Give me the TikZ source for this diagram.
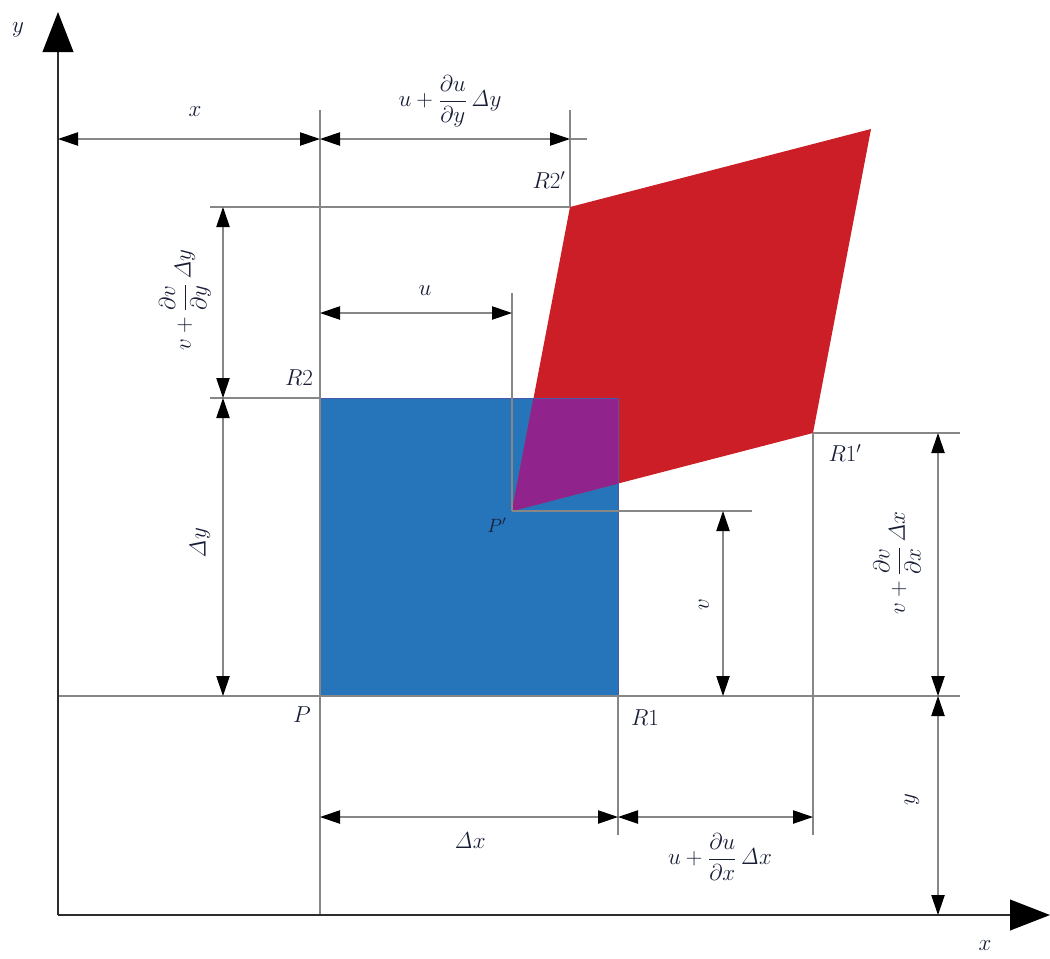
\documentclass[tikz,border=0pt]{standalone}
\usetikzlibrary{arrows.meta}
\definecolor{sqblue}{RGB}{38,116,186}
\definecolor{sqedge}{RGB}{72,88,170}
\definecolor{pred}{RGB}{204,30,38}
\definecolor{ppurple}{RGB}{145,35,140}
\definecolor{lgray}{RGB}{135,135,135}
\definecolor{axgray}{RGB}{45,45,45}
\definecolor{txt}{RGB}{25,30,55}
\newcommand{\dfr}[2]{{\displaystyle\frac{#1}{#2}}}
\begin{document}
\begin{tikzpicture}[x=0.75pt,y=-0.75pt,
  ext/.style={draw=lgray, line width=0.9pt},
  dimarrow/.style={draw=lgray, line width=0.9pt,
    {Triangle[length=15pt,width=10pt,color=black]}-{Triangle[length=15pt,width=10pt,color=black]}},
  axis/.style={draw=axgray, line width=1.4pt, -{Triangle[length=30pt,width=23pt,color=black]}},
  lbl/.style={font=\fontsize{16}{18}\selectfont, text=txt, inner sep=1pt},
  ptlbl/.style={font=\fontsize{16.5}{18}\selectfont, text=txt, inner sep=1pt},
]
\useasboundingbox (0,0) rectangle (1050,958);

% key points
\coordinate (O) at (58,915);
\coordinate (Ytop) at (58,12);
\coordinate (Xend) at (1050,915);
\coordinate (P) at (320,696);
\coordinate (R1) at (618,696);
\coordinate (R2) at (320,398);
\coordinate (Q) at (618,398);
\coordinate (Pp) at (512,511);
\coordinate (R1p) at (813,433);
\coordinate (R2p) at (570,207);
\coordinate (Fp) at (871,129);

% fills
\fill[sqblue] (R2) rectangle (R1);
\fill[pred] (Pp) -- (R1p) -- (Fp) -- (R2p) -- cycle;
\begin{scope}
  \clip (R2) rectangle (R1);
  \fill[ppurple] (Pp) -- (R1p) -- (Fp) -- (R2p) -- cycle;
\end{scope}
\draw[sqedge, line width=0.6pt] (R2) rectangle (R1);

% extension lines
\coordinate (e1a) at (320,110); \coordinate (e1b) at (320,915);
\draw[ext] (e1a) -- (e1b);
\coordinate (e2a) at (570,110);
\draw[ext] (e2a) -- (R2p);
\coordinate (e3a) at (210,207);
\draw[ext] (e3a) -- (R2p);
\coordinate (e4a) at (210,398);
\draw[ext] (e4a) -- (R2);
\coordinate (e5a) at (58,696); \coordinate (e5b) at (960,696);
\draw[ext] (e5a) -- (e5b);
\coordinate (e6a) at (512,293);
\draw[ext] (e6a) -- (Pp);
\coordinate (e7b) at (752,511);
\draw[ext] (Pp) -- (e7b);
\coordinate (e8b) at (960,433);
\draw[ext] (R1p) -- (e8b);
\coordinate (e9b) at (618,835);
\draw[ext] (R1) -- (e9b);
\coordinate (e10b) at (813,835);
\draw[ext] (R1p) -- (e10b);
\coordinate (e11a) at (570,139); \coordinate (e11b) at (587,139);
\draw[ext] (e11a) -- (e11b);

% axes
\draw[axis] (O) -- (Ytop);
\draw[axis] (O) -- (Xend);
\node[lbl] (ylab) at (18,30) {$y$};
\node[lbl] (xlab) at (985,946) {$x$};

% dimension lines
\coordinate (d1a) at (58,139); \coordinate (d1b) at (320,139);
\draw[dimarrow] (d1a) -- (d1b);
\node[lbl] (lx) at (195,112) {$x$};

\coordinate (d2b) at (570,139);
\draw[dimarrow] (d1b) -- (d2b);
\node[lbl] (luy) at (450,101) {$u+\dfr{\partial u}{\partial y}\,\mathit{\Delta} y$};

\coordinate (d3a) at (223,207); \coordinate (d3b) at (223,398); \coordinate (d3c) at (223,696);
\draw[dimarrow] (d3a) -- (d3b);
\draw[dimarrow] (d3b) -- (d3c);
\node[lbl, rotate=90] (lvy) at (185,300) {$v+\dfr{\partial v}{\partial y}\,\mathit{\Delta} y$};
\node[lbl, rotate=90] (ldy) at (200,543) {$\mathit{\Delta} y$};

\coordinate (d4a) at (320,313); \coordinate (d4b) at (512,313);
\draw[dimarrow] (d4a) -- (d4b);
\node[lbl] (lu) at (425,291) {$u$};

\coordinate (d5a) at (723,511); \coordinate (d5b) at (723,696);
\draw[dimarrow] (d5a) -- (d5b);
\node[lbl, rotate=90] (lv) at (704,605) {$v$};

\coordinate (d6a) at (938,433); \coordinate (d6b) at (938,696); \coordinate (d6c) at (938,915);
\draw[dimarrow] (d6a) -- (d6b);
\draw[dimarrow] (d6b) -- (d6c);
\node[lbl, rotate=90] (lvx) at (897,563) {$v+\dfr{\partial v}{\partial x}\,\mathit{\Delta} x$};
\node[lbl, rotate=90] (ly) at (912,800) {$y$};

\coordinate (d7a) at (320,817); \coordinate (d7b) at (618,817); \coordinate (d7c) at (813,817);
\draw[dimarrow] (d7a) -- (d7b);
\draw[dimarrow] (d7b) -- (d7c);
\node[lbl] (ldx) at (470,841) {$\mathit{\Delta} x$};
\node[lbl] (lux) at (720,857) {$u+\dfr{\partial u}{\partial x}\,\mathit{\Delta} x$};

% point labels
\node[ptlbl] (lR2) at (299,378) {$R2$};
\node[ptlbl] (lR2p) at (549,180) {$R2'$};
\node[ptlbl] (lR1p) at (845,453) {$R1'$};
\node[ptlbl] (lR1) at (645,718) {$R1$};
\node[ptlbl] (lP) at (302,715) {$P$};
\node[ptlbl, font=\fontsize{14}{16}\selectfont] (lPp) at (497,525) {$P'$};
\end{tikzpicture}
\end{document}
